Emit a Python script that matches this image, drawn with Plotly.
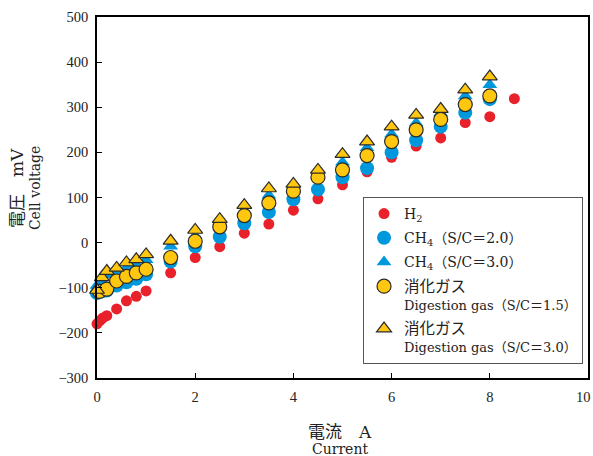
import plotly.graph_objects as go

# ---- data ----
h2_x = [0, 0.06, 0.12, 0.2, 0.4, 0.6, 0.8, 1.0, 1.5, 2, 2.5, 3, 3.5, 4, 4.5, 5, 5.5, 6, 6.5, 7, 7.5, 8, 8.5]
h2_y = [-180, -173, -167, -162, -147, -129, -119, -107, -67, -33, -9, 21, 41, 72, 97, 128, 157, 189, 214, 232, 266, 279, 319]

ch4_x = [0, 0.1, 0.2, 0.4, 0.6, 0.8, 1.0, 1.5, 2, 2.5, 3, 3.5, 4, 4.5, 5, 5.5, 6, 6.5, 7, 7.5, 8]
ch4_sc20_y = [-112, -108, -106, -95, -88, -80, -70, -42, -8, 13, 43, 68, 96, 118, 145, 165, 200, 227, 257, 288, 318]
ch4_sc30_y = [-95, -85, -72, -65, -55, -48, -38, -8, 15, 40, 70, 105, 118, 148, 178, 210, 240, 265, 287, 325, 350]

dg15_x = [0.05, 0.2, 0.4, 0.6, 0.8, 1.0, 1.5, 2, 2.5, 3, 3.5, 4, 4.5, 5, 5.5, 6, 6.5, 7, 7.5, 8]
dg15_y = [-108, -103, -85, -75, -67, -59, -33, 3, 35, 60, 88, 114, 145, 161, 193, 224, 250, 273, 306, 325]

dg30_x = [0, 0.1, 0.2, 0.4, 0.6, 0.8, 1.0, 1.5, 2, 2.5, 3, 3.5, 4, 4.5, 5, 5.5, 6, 6.5, 7, 7.5, 8]
dg30_y = [-105, -77, -63, -56, -44, -37, -26, 4, 28, 52, 83, 120, 130, 161, 196, 224, 257, 283, 296, 339, 368]

x_ticks = [0, 2, 4, 6, 8, 10]
x_ticktext = ["0", "2", "4", "6", "8", ""]   # last label drawn separately so it stays inside the page
x_last_label = "10"
y_ticks = [-300, -200, -100, 0, 100, 200, 300, 400, 500]

TICKFONT = "Liberation Serif, DejaVu Serif, Noto Sans CJK JP, serif"
FONT = "DejaVu Serif, Liberation Serif, Noto Sans CJK JP, serif"
RED = "#e8212b"
BLUE = "#0098dc"
YELLOW = "#ffc70f"
EDGE = "#2b2b2b"
TXT = "#222"

fig = go.Figure()
fig.add_trace(go.Scatter(x=h2_x, y=h2_y, mode="markers", name="H<sub>2</sub>", legendgroup="g1",
                         marker=dict(symbol="circle", size=11, color=RED), cliponaxis=False))
fig.add_trace(go.Scatter(x=ch4_x, y=ch4_sc20_y, mode="markers", name="CH<sub>4</sub>（S/C＝2.0）", legendgroup="g2",
                         marker=dict(symbol="circle", size=14, color=BLUE), cliponaxis=False))
fig.add_trace(go.Scatter(x=ch4_x, y=ch4_sc30_y, mode="markers", name="CH<sub>4</sub>（S/C＝3.0）", legendgroup="g3",
                         marker=dict(symbol="triangle-up", size=13, color=BLUE), cliponaxis=False))
fig.add_trace(go.Scatter(x=dg15_x, y=dg15_y, mode="markers", legendgroup="g4",
                         name="<span style='font-size:15.5px'>消化ガス</span><br><span style='font-size:13px'>Digestion gas（S/C＝1.5）</span>",
                         marker=dict(symbol="circle", size=14, color=YELLOW, line=dict(color=EDGE, width=1.2)),
                         cliponaxis=False))
fig.add_trace(go.Scatter(x=dg30_x, y=dg30_y, mode="markers", legendgroup="g5",
                         name="<span style='font-size:15.5px'>消化ガス</span><br><span style='font-size:13px'>Digestion gas（S/C＝3.0）</span>",
                         marker=dict(symbol="triangle-up", size=13, color=YELLOW, line=dict(color=EDGE, width=1.2)),
                         cliponaxis=False))

axis_common = dict(showgrid=False, zeroline=False, showline=True, linecolor="black", linewidth=1.5,
                   mirror=True, ticks="inside", ticklen=5, tickwidth=1, tickcolor="black",
                   automargin=False, ticklabeloverflow="allow",
                   tickfont=dict(family=TICKFONT, size=14.5, color=TXT))
fig.update_xaxes(range=[0, 10], tickvals=x_ticks, ticktext=x_ticktext, ticklabelstandoff=5, **axis_common)
fig.update_yaxes(range=[-300, 500], tickvals=y_ticks, ticklabelstandoff=4, **axis_common)

annotations = [
    dict(text="電流　A", x=0.495, y=-0.1496, size=17, angle=0),
    dict(text="Current", x=0.495, y=-0.1967, size=14, angle=0),
    dict(text="電圧　mV", x=-0.163, y=0.526, size=17, angle=-90),
    dict(text="Cell voltage", x=-0.1263, y=0.526, size=14, angle=-90),
]
anns = [
    dict(text=a["text"], x=a["x"], y=a["y"], xref="paper", yref="paper", textangle=a["angle"],
         xanchor="center", yanchor="middle", showarrow=False,
         font=dict(family=FONT, size=a["size"], color=TXT))
    for a in annotations
]
anns.append(dict(text=x_last_label, x=x_ticks[-1], y=-0.0526, xref="x", yref="paper",
                 xanchor="right", yanchor="middle", xshift=5, showarrow=False,
                 font=dict(family=TICKFONT, size=14.5, color=TXT)))
fig.update_layout(annotations=anns)

fig.update_layout(
    width=593, height=456,
    margin=dict(l=97, r=5, t=17, b=78),
    paper_bgcolor="white", plot_bgcolor="white",
    showlegend=True,
    legend=dict(x=0.5418, y=0.5014, xanchor="left", yanchor="top",
                bordercolor="#555", borderwidth=1, bgcolor="white",
                font=dict(family=FONT, size=14, color=TXT),
                valign="top", itemwidth=30, tracegroupgap=3, traceorder="grouped"),
)

fig.write_html("out.html")
